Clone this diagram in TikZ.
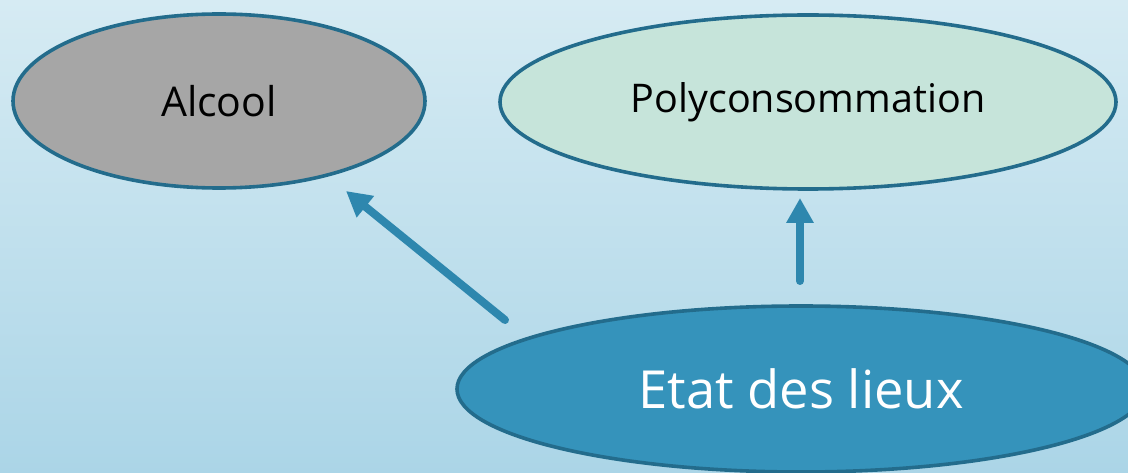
\documentclass[tikz,border=0pt]{standalone}
\usepackage{fontspec}
\setmainfont{Open Sans}
\usetikzlibrary{shapes.geometric,arrows.meta}
\definecolor{bgtop}{HTML}{D6EBF3}
\definecolor{bgbot}{HTML}{ABD5E7}
\definecolor{rim}{HTML}{236C8C}
\definecolor{arrowc}{HTML}{2E87AE}
\definecolor{grayfill}{HTML}{A6A6A6}
\definecolor{mintfill}{HTML}{C6E4DA}
\definecolor{bluefill}{HTML}{3593BB}
\tikzset{
  bubble/.style={ellipse, draw=rim, line width=3.6pt, inner sep=0pt},
  link/.style={draw=arrowc, line width=8pt, line cap=round,
    -{Triangle[length=25pt,width=26pt]}}
}
\begin{document}
\begin{tikzpicture}[x=1pt,y=-1pt]
\useasboundingbox (0,0) rectangle (1128,473);
\clip (0,0) rectangle (1128,473);
\shade[top color=bgtop, bottom color=bgbot] (0,0) rectangle (1128,473);
\node[bubble, fill=grayfill, minimum width=412pt, minimum height=174pt,
  font=\fontsize{41}{45}\selectfont] (alcool) at (219,101) {Alcool};
\node[bubble, fill=mintfill, minimum width=616pt, minimum height=174pt,
  font=\fontsize{39.5}{45}\selectfont] (poly) at (808,102) {Polyconsommation};
\node[bubble, fill=bluefill, minimum width=688pt, minimum height=166pt,
  text=white, font=\fontsize{52.5}{56}\selectfont] (etat) at (801,389) {Etat des lieux};
\coordinate (s1) at (505,320);
\coordinate (e1) at (346,191);
\coordinate (s2) at (800,281);
\coordinate (e2) at (800,198);
\draw[link] (s1) -- (e1);
\draw[link] (s2) -- (e2);
\end{tikzpicture}
\end{document}
